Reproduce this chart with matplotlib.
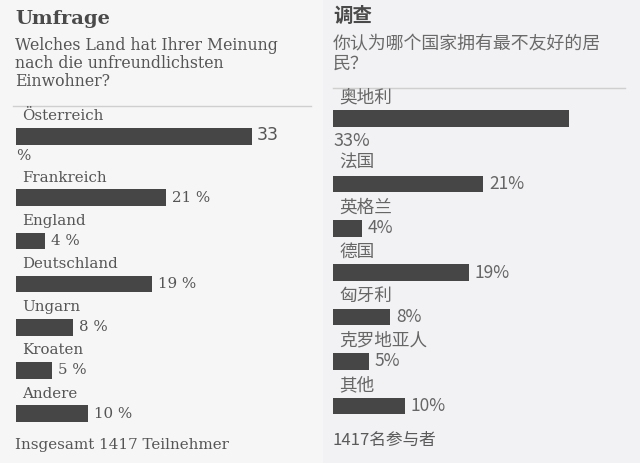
import matplotlib
matplotlib.use("Agg")
import matplotlib.pyplot as plt

W, H = 640, 463

# German panel
de_title = "Umfrage"
de_question = ["Welches Land hat Ihrer Meinung", "nach die unfreundlichsten", "Einwohner?"]
de_labels = ["Österreich", "Frankreich", "England", "Deutschland", "Ungarn", "Kroaten", "Andere"]
de_values = [33, 21, 4, 19, 8, 5, 10]
de_footer = "Insgesamt 1417 Teilnehmer"

# Chinese panel
zh_title = "调查"
zh_question = ["你认为哪个国家拥有最不友好的居", "民？"]
zh_labels = ["奥地利", "法国", "英格兰", "德国", "匈牙利", "克罗地亚人", "其他"]
zh_values = [33, 21, 4, 19, 8, 5, 10]
zh_footer = "1417名参与者"

BAR = "#464646"
TXT = "#555555"
PX_PER_PCT = 7.15
SERIF = "DejaVu Serif"
CJK = ["Noto Sans CJK SC", "DejaVu Sans"]

fig = plt.figure(figsize=(W / 100, H / 100), dpi=100)
fig.patch.set_facecolor("#f2f1f3")

# background / header layer in pixel coordinates
bg = fig.add_axes([0, 0, 1, 1])
bg.set_xlim(0, W)
bg.set_ylim(H, 0)
bg.axis("off")
bg.axvspan(0, 322, color="#f6f6f6", zorder=0)

bg.text(15, 19, de_title, fontsize=14, fontweight="bold", family=SERIF,
        color="#4a4a4a", va="center")
for i, line in enumerate(de_question):
    bg.text(15, 45 + i * 18.5, line, fontsize=11.3, family=SERIF, color=TXT, va="center")
bg.plot([13, 311], [106, 106], color="#cfcfcf", lw=1)
bg.text(15, 445, de_footer, fontsize=10.9, family=SERIF, color=TXT, va="center")

bg.text(333, 16, zh_title, fontsize=14, fontweight="bold", family=CJK,
        color="#4a4a4a", va="center")
for i, line in enumerate(zh_question):
    bg.text(333, 44 + i * 20, line, fontsize=12.9, family=CJK, color="#6a6a6a", va="center")
bg.plot([333, 625], [88, 88], color="#cfcfcf", lw=1)
bg.text(333, 440, zh_footer, fontsize=12, family=CJK, color="#5a5a5a", va="center")


def panel(x0, first, pitch, extra, labels, values, family, fsize, zh):
    ax = fig.add_axes([x0 / W, 0, 300 / W, 1])
    ax.set_xlim(0, 300 / PX_PER_PCT)
    ax.set_ylim(H, 0)
    ax.axis("off")
    ys = [first + i * pitch + (extra if i > 0 else 0) for i in range(len(values))]
    ax.barh(ys, values, height=16.5, left=0, color=BAR)
    col = "#666666" if zh else TXT
    vsize = fsize + 1.0 if zh else fsize
    for y, lab, v in zip(ys, labels, values):
        ax.annotate(lab, (0, y - (21 if zh else 20)), xytext=(6, 0),
                    textcoords="offset pixels", fontsize=fsize + (1.2 if zh else 0),
                    family=family, color=col, va="center")
        if v >= 30:
            if zh:
                ax.text(0, y + 22, f"{v}%", fontsize=fsize + 1.5, family=family,
                        color=col, va="center")
            else:
                ax.annotate(f"{v}", (v, y), xytext=(5, 1), textcoords="offset pixels",
                            fontsize=12.5, family="DejaVu Sans", color=TXT, va="center")
                ax.text(0, y + 19, "%", fontsize=fsize, family=family,
                        color=TXT, va="center")
        else:
            txt = f"{v}%" if zh else f"{v} %"
            ax.annotate(txt, (v, y), xytext=(6, 0), textcoords="offset pixels",
                        fontsize=vsize, family=family, color=col, va="center")
    return ax


panel(16, 136.5, 43.2, 18, de_labels, de_values, SERIF, 10.8, False)
panel(333, 118.5, 44.4, 21, zh_labels, zh_values, CJK, 11.5, True)

fig.savefig("out.png", dpi=100, facecolor=fig.get_facecolor())
